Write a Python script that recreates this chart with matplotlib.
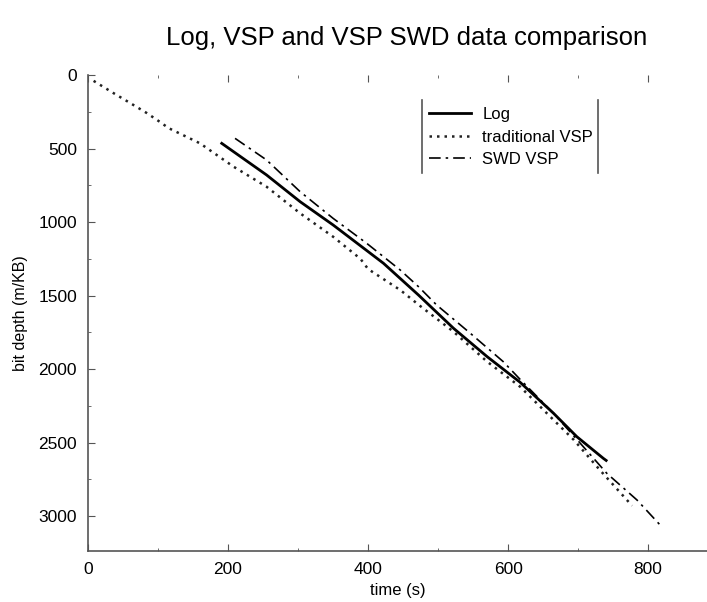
import numpy as np
import matplotlib
matplotlib.use("Agg")
import matplotlib.pyplot as plt
from matplotlib.lines import Line2D
from matplotlib.ticker import MultipleLocator

plt.rcParams['font.family'] = ['Liberation Sans', 'DejaVu Sans']

# traditional VSP (dotted)
vsp_t = [8, 36, 60, 84, 103, 115, 160, 208, 255, 303, 350, 389, 400, 446, 474, 522, 570, 617, 665, 694, 731, 777]
vsp_d = [40, 122, 190, 259, 320, 361, 465, 624, 760, 941, 1100, 1250, 1320, 1463, 1570, 1746, 1950, 2120, 2347, 2483, 2687, 2930]

# log (solid)
log_t = [191, 255, 303, 350, 379, 422, 472, 522, 570, 617, 665, 698, 736, 740]
log_d = [465, 680, 862, 1020, 1125, 1281, 1497, 1723, 1916, 2090, 2302, 2460, 2608, 2622]

# SWD VSP (dash-dot)
swd_t = [210, 255, 303, 350, 398, 446, 472, 498, 546, 593, 617, 665, 703, 741, 784, 817]
swd_d = [431, 578, 794, 975, 1145, 1327, 1440, 1565, 1757, 1950, 2070, 2302, 2505, 2710, 2891, 3061]

fig = plt.figure(figsize=(7.07, 6.02), dpi=100)
ax = fig.add_axes([88/707, 1-551/602, 1-88/707, (551-75)/602])

ax.plot(log_t, log_d, color='black', lw=2.0, label='Log')
ax.plot(vsp_t, vsp_d, color='#222222', lw=1.8, linestyle=(0, (1, 2)), label='traditional VSP')
ax.plot(swd_t, swd_d, color='black', lw=1.2, linestyle=(0, (7, 3, 1.5, 3)), label='SWD VSP')

ax.set_xlim(0, 884)
ax.set_ylim(3238, 0)
ax.xaxis.set_major_locator(MultipleLocator(200))
ax.xaxis.set_minor_locator(MultipleLocator(100))
ax.yaxis.set_major_locator(MultipleLocator(500))
ax.yaxis.set_minor_locator(MultipleLocator(250))
ax.tick_params(which='both', direction='in', top=True, right=False, colors='#555555',
               labelcolor='black', labelsize=12.5, pad=8)
ax.tick_params(which='major', length=5)
ax.tick_params(which='minor', length=2.5)
for s in ['top', 'right']:
    ax.spines[s].set_visible(False)
for s in ['left', 'bottom']:
    ax.spines[s].set_color('#555555')
    ax.spines[s].set_linewidth(1.2)

ax.set_xlabel('time (s)', fontsize=12)
ax.set_ylabel('bit depth (m/KB)', fontsize=11.5, labelpad=7)
fig.text(407/707, 1-38/602, 'Log, VSP and VSP SWD data comparison', ha='center', va='center', fontsize=18.5)

leg = ax.legend(loc='upper left', bbox_to_anchor=(429/707, 1-107/602), bbox_transform=fig.transFigure,
                frameon=False, fontsize=12, handlelength=2.5, handletextpad=0.7,
                labelspacing=0.45, borderpad=0, borderaxespad=0)
for x in [422, 598]:
    fig.add_artist(Line2D([x/707, x/707], [1-100/602, 1-173/602], color='#555555', lw=1.2))

fig.savefig('out.png', dpi=100)
